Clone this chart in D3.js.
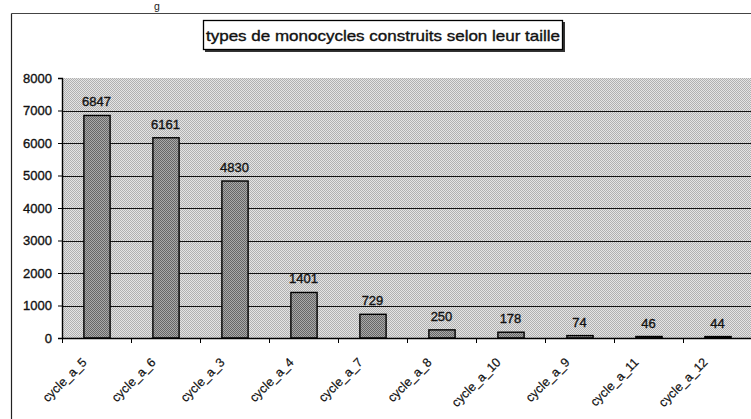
<!DOCTYPE html>
<html>
<head>
<meta charset="utf-8">
<script src="https://cdn.jsdelivr.net/npm/d3@7/dist/d3.min.js"></script>
<style>
  html, body { margin: 0; padding: 0; background: #fff; }
  svg { display: block; font-family: Arial, "Liberation Sans", sans-serif; }
</style>
</head>
<body>
<svg id="chart" width="751" height="419"></svg>
<script>
// Chart data
const categories = ["cycle_a_5", "cycle_a_6", "cycle_a_3", "cycle_a_4", "cycle_a_7",
                    "cycle_a_8", "cycle_a_10", "cycle_a_9", "cycle_a_11", "cycle_a_12"];
const counts = [6847, 6161, 4830, 1401, 729, 250, 178, 74, 46, 44];
const yTicks = [0, 1000, 2000, 3000, 4000, 5000, 6000, 7000, 8000];
const titleText = "types de monocycles construits selon leur taille";

const svg = d3.select("#chart");

// Dithered fills for the plot background and the bars
const defs = svg.append("defs");
function dither(id, base, dot) {
  const p = defs.append("pattern").attr("id", id)
    .attr("width", 2).attr("height", 2).attr("patternUnits", "userSpaceOnUse");
  p.append("rect").attr("width", 2).attr("height", 2).attr("fill", base);
  p.append("rect").attr("x", 0).attr("y", 0).attr("width", 1).attr("height", 1).attr("fill", dot);
  p.append("rect").attr("x", 1).attr("y", 1).attr("width", 1).attr("height", 1).attr("fill", dot);
}
dither("plotFill", "#e4e4e4", "#b0b0b0");
dither("barFill", "#aaaaaa", "#666666");

// Layout
const plot = { left: 62, top: 78, right: 752, bottom: 338 };

const x = d3.scaleBand().domain(categories).range([plot.left, plot.right]).paddingInner(0.62).paddingOuter(0.31);
const xBand = d3.scaleBand().domain(categories).range([plot.left, plot.right]);
const y = d3.scaleLinear().domain([0, 8000]).range([plot.bottom, plot.top]);

// Slightly heavy text, as on a printed chart
function ink(sel, w) {
  sel.attr("fill", "#111").attr("stroke", "#111").attr("stroke-width", w).attr("paint-order", "stroke");
}

// Outer chart frame
svg.append("line").attr("x1", 11.5).attr("x2", 751).attr("y1", 13.5).attr("y2", 13.5)
  .attr("stroke", "#444").attr("stroke-width", 1);
svg.append("line").attr("x1", 11.5).attr("x2", 11.5).attr("y1", 13.5).attr("y2", 419)
  .attr("stroke", "#222").attr("stroke-width", 1.2);

// Fragment of the caption above the frame
svg.append("text").attr("x", 154).attr("y", 10).attr("font-size", 10.5).attr("fill", "#222").text("g");

// Plot background
svg.append("rect")
  .attr("x", plot.left).attr("y", plot.top)
  .attr("width", plot.right - plot.left).attr("height", plot.bottom - plot.top)
  .attr("fill", "url(#plotFill)");

// Horizontal gridlines
svg.append("g").selectAll("line")
  .data(yTicks.filter(t => t > 0 && t < 8000))
  .join("line")
  .attr("x1", plot.left).attr("x2", plot.right)
  .attr("y1", d => Math.round(y(d)) + 0.5).attr("y2", d => Math.round(y(d)) + 0.5)
  .attr("stroke", "#111").attr("stroke-width", 1.1);

// Bars
svg.append("g").selectAll("rect")
  .data(counts)
  .join("rect")
  .attr("x", (d, i) => x(categories[i]) + 0.5)
  .attr("y", d => y(d))
  .attr("width", x.bandwidth())
  .attr("height", d => plot.bottom - y(d))
  .attr("fill", "url(#barFill)")
  .attr("stroke", "#000").attr("stroke-width", 1.4);

// Value labels
svg.append("g").selectAll("text")
  .data(counts)
  .join("text")
  .attr("x", (d, i) => x(categories[i]) + x.bandwidth() / 2)
  .attr("y", d => y(d) - 9)
  .attr("text-anchor", "middle")
  .attr("font-size", 13)
  .call(ink, 0.35)
  .text(d => d);

// Y axis
const yAxis = d3.axisLeft(y).tickValues(yTicks).tickSize(4).tickPadding(6).tickFormat(d3.format("d"));
const gy = svg.append("g").attr("transform", `translate(${plot.left},0)`).call(yAxis);
gy.select(".domain").attr("stroke", "#000").attr("stroke-width", 1.4);
gy.selectAll(".tick line").attr("stroke", "#000");
gy.selectAll(".tick text").attr("font-size", 13)
  .attr("font-family", "Arial, 'Liberation Sans', sans-serif").call(ink, 0.35);

// X axis: baseline with ticks on category boundaries
svg.append("line").attr("x1", plot.left).attr("x2", plot.right)
  .attr("y1", plot.bottom + 0.5).attr("y2", plot.bottom + 0.5)
  .attr("stroke", "#000").attr("stroke-width", 1.4);
svg.append("g").selectAll("line")
  .data(categories)
  .join("line")
  .attr("x1", d => xBand(d) + 0.5).attr("x2", d => xBand(d) + 0.5)
  .attr("y1", plot.bottom).attr("y2", plot.bottom + 5)
  .attr("stroke", "#000").attr("stroke-width", 1);

// Rotated category labels
svg.append("g").selectAll("text")
  .data(categories)
  .join("text")
  .attr("transform", d => `translate(${xBand(d) + xBand.bandwidth() / 2 - 9},${plot.bottom + 25}) rotate(-45)`)
  .attr("text-anchor", "end")
  .attr("font-size", 12.5)
  .call(ink, 0.2)
  .text(d => d);

// Title in a framed box with a small drop shadow
const tg = svg.append("g");
tg.append("rect").attr("x", 205).attr("y", 22).attr("width", 360).attr("height", 30)
  .attr("fill", "#333");
tg.append("rect").attr("x", 203.5).attr("y", 20.5).attr("width", 359).attr("height", 29)
  .attr("fill", "#fff").attr("stroke", "#000").attr("stroke-width", 1.3);
tg.append("text").attr("x", 383).attr("y", 40.5)
  .attr("text-anchor", "middle").attr("font-size", 14.5)
  .attr("textLength", 354).attr("lengthAdjust", "spacingAndGlyphs")
  .call(ink, 0.35)
  .text(titleText);
</script>
</body>
</html>
